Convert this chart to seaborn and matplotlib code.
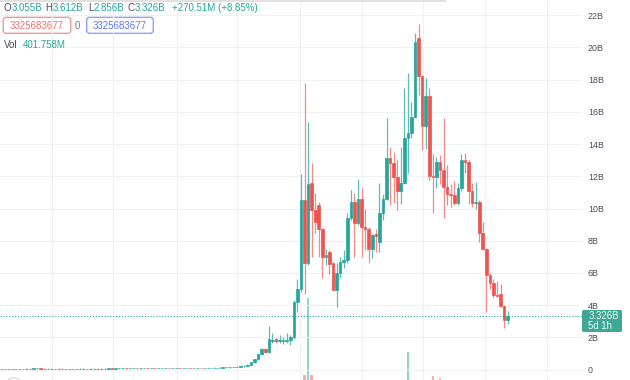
import matplotlib
matplotlib.use("Agg")
import matplotlib.pyplot as plt
from matplotlib.patches import FancyBboxPatch, Circle
from matplotlib.lines import Line2D
from matplotlib.transforms import Affine2D
import numpy as np
import pandas as pd
import seaborn as sns

# ---------------- data (weekly candles, values in billions) ----------------
opens = [0.05,0.04,0.05,0.04,0.05,0.05,0.04,0.05,0.06,0.05,
         0.07,0.09,0.06,0.05,0.06,0.05,0.05,0.06,0.05,0.05,
         0.04,0.05,0.05,0.06,0.05,0.05,0.06,0.06,0.05,0.06,
         0.06,0.07,0.06,0.07,0.07,0.08,0.07,0.08,0.08,0.07,
         0.08,0.09,0.08,0.09,0.08,0.08,0.09,0.09,0.08,0.09,
         0.10,0.09,0.10,0.10,0.09,0.10,0.11,0.10,0.10,0.11,
         0.11,0.12,0.12,0.13,0.13,0.14,0.16,
         0.18,0.20,0.24,0.31,0.44,0.64,0.95,1.25,1.10,1.76,
         1.88,1.76,1.78,1.80,1.84,2.00,4.21,5.00,10.53,6.60,
         11.60,9.91,10.22,8.74,7.01,7.30,6.59,4.94,5.97,6.70,
         6.80,9.43,10.42,9.08,10.57,8.83,8.71,7.47,8.40,7.90,
         9.74,10.59,13.12,12.85,11.98,11.11,11.56,14.36,14.71,15.70,
         20.57,18.23,15.12,16.99,12.02,11.98,12.91,12.39,11.36,10.90,
         10.84,10.32,11.25,13.01,12.91,11.10,10.36,10.43,8.50,7.50,
         5.87,5.35,4.63,4.70,3.94,3.055]
closes = [0.04,0.05,0.04,0.05,0.05,0.04,0.05,0.06,0.05,0.07,
          0.09,0.06,0.05,0.06,0.05,0.05,0.06,0.05,0.05,0.04,
          0.05,0.05,0.06,0.05,0.05,0.06,0.06,0.05,0.06,0.06,
          0.07,0.06,0.07,0.07,0.08,0.07,0.08,0.08,0.07,0.08,
          0.09,0.08,0.09,0.08,0.08,0.09,0.09,0.08,0.09,0.10,
          0.09,0.10,0.10,0.09,0.10,0.11,0.10,0.10,0.11,0.11,
          0.12,0.12,0.13,0.13,0.14,0.16,0.18,
          0.20,0.24,0.31,0.44,0.64,0.95,1.25,1.10,1.87,1.82,
          1.76,1.82,1.84,1.86,2.00,4.21,5.00,10.53,6.60,11.52,
          9.90,9.18,8.71,7.01,7.10,6.53,4.94,5.97,6.70,6.80,
          9.43,10.42,9.08,10.57,8.83,8.71,7.47,8.35,8.30,9.74,
          10.59,13.12,12.85,11.98,11.11,11.56,14.36,14.71,15.70,20.36,
          18.23,15.12,16.99,12.02,11.98,12.91,12.39,11.36,10.90,10.84,
          10.32,11.25,13.01,12.91,11.10,10.36,10.42,8.46,7.50,5.87,
          5.35,4.63,4.55,3.94,3.055,3.326]
highs = [0.06,0.06,0.06,0.06,0.06,0.06,0.06,0.07,0.07,0.08,
         0.10,0.10,0.07,0.07,0.07,0.06,0.07,0.07,0.06,0.06,
         0.06,0.06,0.07,0.07,0.06,0.07,0.07,0.07,0.07,0.07,
         0.08,0.08,0.08,0.08,0.09,0.09,0.09,0.09,0.09,0.09,
         0.10,0.10,0.10,0.10,0.09,0.10,0.10,0.10,0.10,0.11,
         0.11,0.11,0.11,0.11,0.11,0.12,0.12,0.11,0.12,0.12,
         0.13,0.13,0.14,0.14,0.15,0.17,0.19,
         0.22,0.26,0.33,0.47,0.68,1.00,1.32,1.33,2.70,2.30,
         1.95,2.15,2.05,2.30,2.15,4.30,5.60,12.15,17.77,15.40,
         12.80,10.94,10.40,8.80,7.50,7.40,6.70,6.60,7.00,7.40,
         9.70,11.15,10.94,11.81,11.25,10.00,8.87,8.40,8.70,11.60,
         10.90,15.60,13.80,13.50,13.00,13.84,17.46,18.40,16.63,20.92,
         21.46,18.30,18.10,17.50,13.40,13.20,13.30,15.60,12.70,11.50,
         11.70,11.60,13.40,13.43,13.00,11.56,11.66,10.50,9.18,7.53,
         6.00,5.60,5.50,5.30,3.94,3.612]
lows = [0.03,0.03,0.03,0.03,0.04,0.03,0.03,0.04,0.04,0.04,
        0.06,0.05,0.04,0.04,0.04,0.04,0.04,0.04,0.04,0.03,
        0.03,0.04,0.04,0.04,0.04,0.04,0.05,0.04,0.04,0.05,
        0.05,0.05,0.05,0.06,0.06,0.06,0.06,0.07,0.06,0.06,
        0.07,0.07,0.07,0.07,0.07,0.07,0.08,0.07,0.07,0.08,
        0.08,0.08,0.09,0.08,0.08,0.09,0.09,0.09,0.09,0.10,
        0.10,0.11,0.11,0.12,0.12,0.13,0.15,
        0.16,0.18,0.22,0.29,0.42,0.60,0.90,1.02,1.00,1.65,
        1.62,1.62,1.60,1.65,1.50,1.90,3.60,4.80,4.70,6.50,
        7.00,8.46,7.00,5.66,6.50,5.96,4.90,3.90,5.70,6.30,
        6.60,9.30,7.00,9.00,7.01,7.43,6.64,6.90,7.30,7.32,
        9.30,10.50,10.20,10.36,9.90,10.30,11.50,12.18,14.40,15.60,
        17.05,13.63,13.70,11.80,9.74,11.30,11.50,9.40,10.20,10.10,
        10.20,10.20,11.10,12.20,10.30,10.11,10.00,7.94,7.40,3.59,
        5.00,4.50,4.50,3.90,2.60,2.856]
volumes = [0.03,0.03,0.04,0.03,0.03,0.04,0.03,0.04,0.05,0.05,
           0.08,0.07,0.04,0.04,0.04,0.03,0.04,0.04,0.03,0.03,
           0.03,0.03,0.04,0.04,0.03,0.04,0.04,0.04,0.04,0.04,
           0.05,0.05,0.05,0.05,0.06,0.05,0.06,0.06,0.05,0.06,
           0.06,0.06,0.07,0.06,0.06,0.07,0.07,0.06,0.07,0.08,
           0.07,0.08,0.08,0.07,0.08,0.09,0.08,0.08,0.09,0.09,
           0.10,0.10,0.11,0.11,0.12,0.13,0.14,
           0.15,0.20,0.25,0.30,0.40,0.50,0.60,0.50,0.90,0.60,
           0.50,0.50,0.40,0.50,0.60,1.20,1.40,1.90,2.25,6.10,
           2.25,1.50,1.20,1.10,0.90,0.80,1.00,1.20,0.90,0.80,
           1.10,1.30,1.20,1.30,1.10,0.90,0.90,0.80,0.70,1.00,
           1.00,1.60,1.30,1.20,1.00,1.10,1.50,3.40,1.60,1.90,
           1.80,1.70,1.40,1.90,2.20,1.20,2.10,1.50,1.00,0.90,
           0.80,0.80,1.00,0.90,1.00,0.80,0.70,1.00,0.90,1.30,
           0.80,0.70,0.60,0.70,0.90,0.40]

y_ticks = [0, 2, 4, 6, 8, 10, 12, 14, 16, 18, 20, 22]
y_tick_labels = ["0", "2B", "4B", "6B", "8B", "10B", "12B", "14B", "16B", "18B", "20B", "22B"]
last_price = 3.326
last_price_label = "3.326B"
countdown_label = "5d 1h"
ohlc_legend = [("O", "3.055B"), ("H", "3.612B"), ("L", "2.856B"), ("C", "3.326B")]
change_label = "+270.51M (+8.85%)"
input_value = "3325683677"
input_sep = "0"
vol_label = "Vol"
vol_value = "401.758M"

# ---------------- style ----------------
UP = "#26a69a"
DOWN = "#ef5350"
UP_WICK = "#5fbdb2"
DOWN_WICK = "#f38a88"
UP_VOL = "#92d2cc"
DOWN_VOL = "#f7aba9"
TXT = "#4a4e59"

sns.set_theme(style="white")
plt.rcParams["font.family"] = ["Liberation Sans", "DejaVu Sans"]

W, H = 630, 380
fig = plt.figure(figsize=(W / 100, H / 100), dpi=100)
fig.patch.set_facecolor("white")
PX = Affine2D().scale(1 / W, -1 / H).translate(0, 1) + fig.transFigure

plot_right = 582
ax = fig.add_axes([0, 0, plot_right / W, 1])
ax2 = ax.twinx()

df = pd.DataFrame({"o": opens, "h": highs, "l": lows, "c": closes, "v": volumes})
df["idx"] = np.arange(len(df))
df["dir"] = np.where(df["c"] >= df["o"], "up", "down")

# volume overlay (seaborn)
sns.barplot(data=df, x="idx", y="v", hue="dir", palette={"up": UP_VOL, "down": DOWN_VOL},
            native_scale=True, width=0.75, dodge=False, errorbar=None, saturation=1,
            legend=False, linewidth=0, ax=ax2)
ax2.set_ylim(2.0, 21.0)
ax2.set_yticks([])
ax2.set_ylabel("")
ax2.set_xlabel("")
for s in ax2.spines.values():
    s.set_visible(False)

ax.set_zorder(ax2.get_zorder() + 1)
ax.patch.set_visible(False)

# candles
body_col = np.where(df["dir"] == "up", UP, DOWN)
wick_col = np.where(df["dir"] == "up", UP_WICK, DOWN_WICK)
ax.vlines(df["idx"], df["l"], df["h"], colors=wick_col, linewidth=0.9, zorder=2)
ax.bar(df["idx"], (df["c"] - df["o"]).abs(), bottom=df[["o", "c"]].min(axis=1),
       width=0.74, color=body_col, edgecolor=body_col, linewidth=0.5, zorder=3)

ax.axhline(last_price, color=UP, linestyle=(0, (1, 1.6)), linewidth=0.8, zorder=1)

step = 3.565
ax.set_xlim(-1.5 / step, (plot_right - 1.5) / step)
ax.set_ylim(-0.65, 22.95)
ax.set_xticks([14.2, 31.3, 49.2, 66.1, 83.7, 101.1, 118.2, 135.6, 153.0])
ax.set_xlabel("")
ax.set_ylabel("")
ax.tick_params(axis="x", length=0, labelbottom=False)
ax.yaxis.tick_right()
ax.set_yticks(y_ticks)
ax.set_yticklabels(y_tick_labels)
ax.tick_params(axis="y", length=0, pad=4.3, labelsize=6.4, colors=TXT)
ax.grid(True, color="#eff1f4", linewidth=0.8)
ax.set_axisbelow(True)
for s in ax.spines.values():
    s.set_visible(False)

# top bar edge and bottom-left control outline
fig.add_artist(Line2D([0, 446], [0.6, 0.6], transform=PX, color="#dcdcdc", linewidth=1.2))
fig.add_artist(Circle((14, 385), 7.5, transform=PX, facecolor="white",
                      edgecolor="#d6d6d6", linewidth=0.8))

# legend line 1: each letter followed directly by its value
fs = 7.0
letter_x = [3.5, 45.5, 88.0, 127.5]
for (lab, val), xl in zip(ohlc_legend, letter_x):
    t = fig.text(xl, 7.6, lab, transform=PX, fontsize=fs, color=TXT, va="center", ha="left")
    ax.annotate(val, xy=(1, 0.5), xycoords=t, xytext=(0.3, 0),
                textcoords="offset points", fontsize=fs, color=UP,
                va="center", ha="left", annotation_clip=False)
fig.text(171.7, 7.6, change_label, transform=PX, fontsize=fs, color=UP, va="center", ha="left")

# legend line 2 (input boxes)
for (x0, w, ec, tc) in [(3.3, 67.4, "#f29a9a", "#f07272"), (86.7, 66.6, "#8ea4f6", "#5d7cf0")]:
    fig.add_artist(FancyBboxPatch((x0, 17.3), w, 16, boxstyle="round,pad=0,rounding_size=3",
                                  transform=PX, facecolor="white", edgecolor=ec, linewidth=1.0))
    fig.text(x0 + w / 2, 25.6, input_value, transform=PX, fontsize=fs, color=tc,
             va="center", ha="center")
fig.text(77.6, 25.6, input_sep, transform=PX, fontsize=fs, color="#7a7e88", va="center", ha="center")

# legend line 3
fig.text(4.0, 44.5, vol_label, transform=PX, fontsize=fs, color=TXT, va="center", ha="left")
fig.text(22.7, 44.5, vol_value, transform=PX, fontsize=fs, color=UP, va="center", ha="left")

# last price tag
fig.add_artist(FancyBboxPatch((582, 310), 40, 22, boxstyle="round,pad=0,rounding_size=1.5",
                              transform=PX, facecolor="#3fa895", edgecolor="none"))
fig.text(588.5, 316.0, last_price_label, transform=PX, fontsize=6.9, color="#eefaf7",
         va="center", ha="left")
fig.text(588.5, 326.2, countdown_label, transform=PX, fontsize=6.9, color="#eefaf7",
         va="center", ha="left")

fig.savefig("out.png", dpi=100, facecolor="white")
